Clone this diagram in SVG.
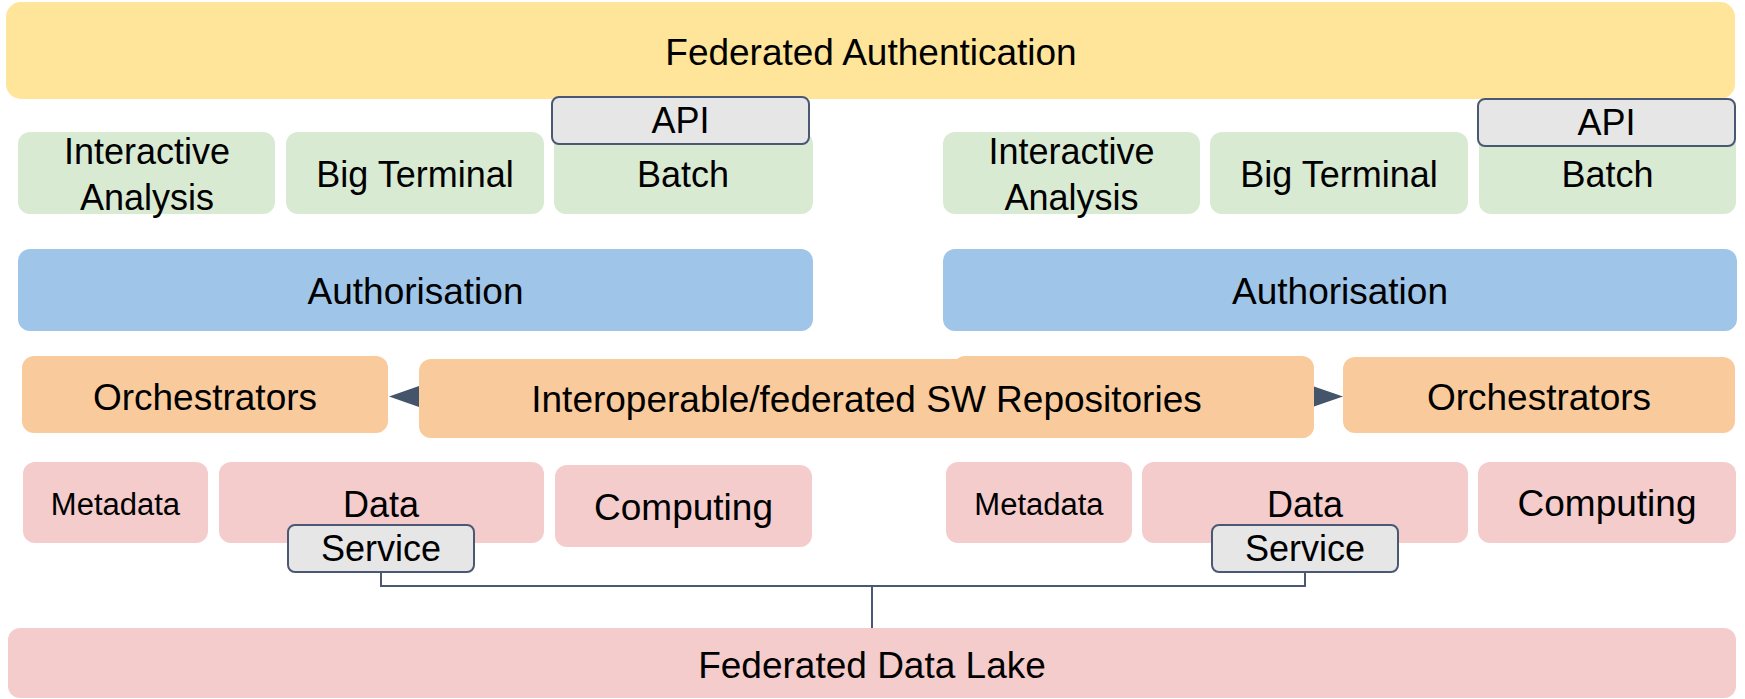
<svg xmlns="http://www.w3.org/2000/svg" width="1745" height="699" viewBox="0 0 1745 699">
<style>
text{font-family:"Liberation Sans",Arial,Helvetica,sans-serif;fill:#000;text-anchor:middle}
.t36{font-size:36px}
.t37{font-size:37px}
.t31{font-size:31px}
.yel{fill:#FFE599}
.grn{fill:#D9EAD3}
.blu{fill:#9FC5E8}
.org{fill:#F9CB9C}
.pnk{fill:#F4CCCC}
.tag{fill:#E6E6E6;stroke:#4A5874;stroke-width:2}
.conn{fill:none;stroke:#4A5874;stroke-width:2}
.head{fill:#44546A}
</style>
<rect width="1745" height="699" fill="#fff"/>

<g id="federated-authentication">
<rect class="yel" x="6" y="2" width="1729" height="97" rx="15"/>
<text class="t37" x="871" y="65">Federated Authentication</text>
</g>

<!-- Left side -->
<g id="interactive-analysis-left">
<rect class="grn" x="18" y="132" width="257" height="82" rx="12"/>
<text class="t36" x="147" y="163.5">Interactive</text>
<text class="t36" x="147" y="209.5">Analysis</text>
</g>
<g id="big-terminal-left">
<rect class="grn" x="286" y="132" width="258" height="82" rx="12"/>
<text class="t36" x="415" y="187">Big Terminal</text>
</g>
<g id="batch-left">
<rect class="grn" x="554" y="132" width="259" height="82" rx="12"/>
<text class="t36" x="683" y="187">Batch</text>
</g>
<g id="api-left">
<rect class="tag" x="552" y="97" width="257" height="47" rx="7"/>
<text class="t36" x="680.5" y="133">API</text>
</g>
<g id="authorisation-left">
<rect class="blu" x="18" y="249" width="795" height="82" rx="12"/>
<text class="t37" x="415.5" y="304">Authorisation</text>
</g>
<g id="orchestrators-left">
<rect class="org" x="22" y="356" width="366" height="77" rx="12"/>
<text class="t37" x="205" y="410">Orchestrators</text>
</g>
<g id="metadata-left">
<rect class="pnk" x="23" y="462" width="185" height="81" rx="12"/>
<text class="t31" x="115.5" y="515">Metadata</text>
</g>
<g id="data-left">
<rect class="pnk" x="219" y="462" width="325" height="81" rx="12"/>
<text class="t36" x="381" y="517">Data</text>
</g>
<g id="computing-left">
<rect class="pnk" x="555" y="465" width="257" height="82" rx="12"/>
<text class="t37" x="683.5" y="520">Computing</text>
</g>
<g id="service-left">
<rect class="tag" x="288" y="525" width="186" height="47" rx="7"/>
<text class="t36" x="381" y="561">Service</text>
</g>

<!-- Shared -->
<g id="sw-repositories">
<rect class="org" x="419" y="359" width="895" height="79" rx="12"/>
<rect class="org" x="953" y="356" width="361" height="82" rx="12"/>
<text class="t37" x="866.5" y="412">Interoperable/federated SW Repositories</text>
</g>

<!-- Right side -->
<g id="interactive-analysis-right">
<rect class="grn" x="943" y="132" width="257" height="82" rx="12"/>
<text class="t36" x="1071.5" y="163.5">Interactive</text>
<text class="t36" x="1071.5" y="209.5">Analysis</text>
</g>
<g id="big-terminal-right">
<rect class="grn" x="1210" y="132" width="258" height="82" rx="12"/>
<text class="t36" x="1339" y="187">Big Terminal</text>
</g>
<g id="batch-right">
<rect class="grn" x="1479" y="132" width="257" height="82" rx="12"/>
<text class="t36" x="1607.5" y="187">Batch</text>
</g>
<g id="api-right">
<rect class="tag" x="1478" y="99" width="257" height="47" rx="7"/>
<text class="t36" x="1606.5" y="135">API</text>
</g>
<g id="authorisation-right">
<rect class="blu" x="943" y="249" width="794" height="82" rx="12"/>
<text class="t37" x="1340" y="304">Authorisation</text>
</g>
<g id="orchestrators-right">
<rect class="org" x="1343" y="357" width="392" height="76" rx="12"/>
<text class="t37" x="1539" y="410">Orchestrators</text>
</g>
<g id="metadata-right">
<rect class="pnk" x="946" y="462" width="186" height="81" rx="12"/>
<text class="t31" x="1039" y="515">Metadata</text>
</g>
<g id="data-right">
<rect class="pnk" x="1142" y="462" width="326" height="81" rx="12"/>
<text class="t36" x="1305" y="517">Data</text>
</g>
<g id="computing-right">
<rect class="pnk" x="1478" y="462" width="258" height="81" rx="12"/>
<text class="t37" x="1607" y="516">Computing</text>
</g>
<g id="service-right">
<rect class="tag" x="1212" y="525" width="186" height="47" rx="7"/>
<text class="t36" x="1305" y="561">Service</text>
</g>

<g id="federated-data-lake">
<rect class="pnk" x="8" y="628" width="1728" height="70" rx="12"/>
<text class="t37" x="872" y="678">Federated Data Lake</text>
</g>

<g id="connectors">
<path class="conn" d="M381 573 V586 H1305 V573"/>
<path class="conn" d="M872 586 V628"/>
<polygon class="head" points="419,386 419,407 389,396.5"/>
<polygon class="head" points="1314,386.5 1314,406.5 1343,396.5"/>
</g>
</svg>
